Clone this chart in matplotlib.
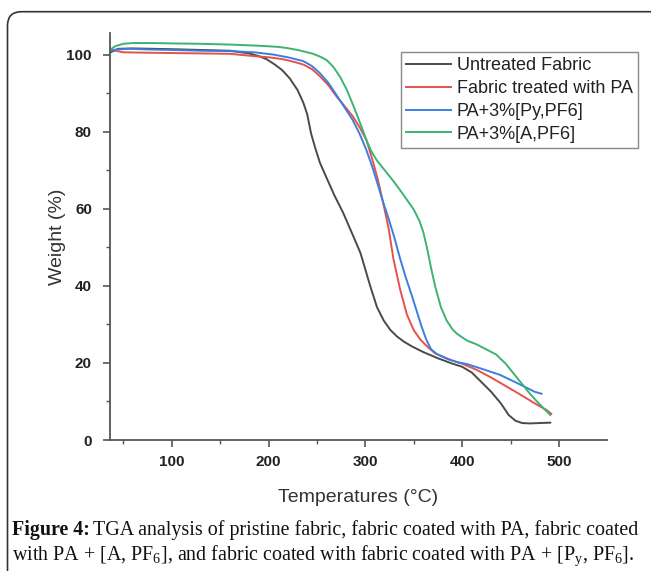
import matplotlib
matplotlib.use("Agg")
import matplotlib.pyplot as plt
from matplotlib.patches import FancyBboxPatch
from matplotlib.transforms import IdentityTransform
from matplotlib.ticker import MultipleLocator, FixedLocator

plt.rcParams['font.family'] = ['Liberation Sans', 'DejaVu Sans']
plt.rcParams['mathtext.fontset'] = 'custom'
plt.rcParams['mathtext.rm'] = 'Liberation Serif'
plt.rcParams['mathtext.it'] = 'Liberation Serif:italic'
plt.rcParams['mathtext.bf'] = 'Liberation Serif:bold'

# TGA curves (temperature in C, weight in %)
untreated_t = [36, 45, 60, 80, 100, 130, 160, 180, 190, 198, 206, 214, 222, 230, 236,
               240, 244, 248, 253, 260, 268, 277, 286, 295, 305, 312, 319, 326, 333,
               340, 348, 360, 375, 390, 400, 410, 420, 430, 440, 448, 455, 462, 470,
               480, 491]
untreated_w = [100.5, 101.5, 101.6, 101.5, 101.4, 101.2, 101.0, 100.3, 99.6, 98.8, 97.5,
               96.0, 93.8, 90.8, 87.5, 84.5, 79.5, 76.0, 72.0, 68.0, 63.5, 59.0, 53.8,
               48.5, 40.0, 34.5, 31.0, 28.5, 26.8, 25.5, 24.3, 22.8, 21.2, 19.8, 19.0,
               17.5, 15.0, 12.5, 9.5, 6.5, 5.0, 4.4, 4.3, 4.4, 4.5]

pa_t = [36, 42, 50, 70, 100, 130, 160, 185, 200, 215, 228, 236, 245, 253, 262, 270,
        278, 287, 294, 301, 307, 313, 318, 324, 329, 336, 343, 350, 357, 365, 372,
        380, 390, 400, 415, 430, 445, 460, 475, 487, 492]
pa_w = [101.5, 101.0, 100.6, 100.5, 100.4, 100.3, 100.2, 99.6, 99.3, 98.8, 98.0, 97.4,
        96.2, 94.4, 92.0, 89.2, 86.8, 84.0, 81.2, 77.9, 73.0, 67.5, 62.0, 55.0, 47.0,
        39.0, 32.5, 28.5, 26.0, 24.0, 22.5, 21.6, 20.6, 19.8, 18.2, 16.2, 14.0, 11.8,
        9.5, 7.8, 6.8]

py_t = [36, 42, 55, 80, 100, 130, 160, 185, 205, 220, 236, 245, 253, 262, 270, 278,
        287, 294, 301, 307, 312, 318, 324, 330, 336, 342, 348, 353, 358, 363, 368,
        374, 385, 395, 405, 420, 439, 455, 467, 475, 482]
py_w = [100.8, 101.3, 101.5, 101.3, 101.2, 101.0, 100.9, 100.6, 100.0, 99.3, 98.3, 97.0,
        95.2, 92.6, 89.6, 86.5, 83.0, 79.5, 75.3, 71.0, 67.0, 62.0, 57.5, 52.5, 47.0,
        42.0, 37.5, 33.5, 29.5, 26.0, 23.5, 22.3, 21.0, 20.2, 19.7, 18.5, 16.9, 15.0,
        13.5, 12.5, 12.0]

a_t = [36, 42, 50, 60, 80, 100, 130, 160, 190, 210, 219, 230, 240, 246, 253, 260, 267,
       274, 281, 288, 295, 301, 306, 312, 320, 328, 336, 343, 350, 356, 360, 364, 368,
       372, 378, 384, 390, 395, 405, 415, 425, 435, 445, 453, 462, 470, 478, 485, 491]
a_w = [101.2, 102.2, 102.8, 103.0, 103.0, 102.9, 102.8, 102.6, 102.3, 102.0, 101.7,
       101.2, 100.6, 100.2, 99.5, 98.6, 96.8, 94.2, 90.8, 86.5, 82.0, 77.9, 75.0, 72.5,
       70.0, 67.5, 64.8, 62.3, 59.8, 56.8, 53.8, 49.5, 44.5, 40.0, 34.5, 31.0, 28.7,
       27.5, 25.8, 24.8, 23.5, 22.2, 19.8, 17.3, 14.5, 12.0, 9.8, 8.0, 6.5]

labels = ["Untreated Fabric", "Fabric treated with PA", "PA+3%[Py,PF6]", "PA+3%[A,PF6]"]
colors = ["#4a4a4a", "#e8504a", "#3a7fe0", "#3cb371"]

W, H = 651, 571
fig = plt.figure(figsize=(W / 100, H / 100), dpi=100)

# rounded frame around the figure panel
frame = FancyBboxPatch((7.5, -30), 700, H - 11.7 + 30,
                       boxstyle="round,pad=0,rounding_size=14",
                       transform=IdentityTransform(), fill=False,
                       ec="#333333", lw=1.2)
fig.add_artist(frame)

ax = fig.add_axes([110 / W, 1 - 440 / H, (607 - 110) / W, (440 - 33) / H])

series = [(untreated_t, untreated_w), (pa_t, pa_w), (py_t, py_w), (a_t, a_w)]
for (t, w), lab, c in zip(series, labels, colors):
    ax.plot(t, w, color=c, lw=1.4, label=lab)

ax.set_xlim(36.3, 549.6)
ax.set_ylim(0, 105.6)
ax.xaxis.set_major_locator(MultipleLocator(100))
ax.xaxis.set_minor_locator(FixedLocator([50, 150, 250, 350, 450, 550]))
ax.yaxis.set_major_locator(MultipleLocator(20))
ax.yaxis.set_minor_locator(FixedLocator([10, 30, 50, 70, 90]))

for s in ["top", "right"]:
    ax.spines[s].set_visible(False)
for s in ["left", "bottom"]:
    ax.spines[s].set_color("#555555")
    ax.spines[s].set_linewidth(1.3)

ax.tick_params(which="major", direction="out", length=5, width=1.2, color="#555555",
               labelsize=11, labelcolor="#222222")
ax.tick_params(which="minor", direction="out", length=3, width=1.0, color="#555555")
ax.tick_params(axis="y", which="major", pad=8)
ax.tick_params(axis="x", which="major", pad=6)
for lbl in ax.get_xticklabels() + ax.get_yticklabels():
    lbl.set_fontweight("bold")

ax.set_xlabel("Temperatures (°C)", fontsize=14, color="#333333", labelpad=14)
ax.set_ylabel("Weight (%)", fontsize=14, color="#333333", labelpad=0)

leg = ax.legend(loc="upper right", bbox_to_anchor=(638 / W, 1 - 52 / H),
                bbox_transform=fig.transFigure, borderaxespad=0, fontsize=13,
                fancybox=False, edgecolor="#888888", framealpha=1,
                handlelength=2.5, handletextpad=0.3, labelspacing=0.32,
                borderpad=0.3)
leg.get_frame().set_linewidth(1.0)
for txt in leg.get_texts():
    txt.set_color("#222222")

# caption: bold lead-in followed by regular text
cap_size = 14.4
x0 = 12 / W
y1, y2 = 1 - 535 / H, 1 - 560 / H
lead = fig.text(x0, y1, "Figure 4:", fontsize=cap_size, family="Liberation Serif",
                weight="bold", color="#111111", va="baseline")
fig.canvas.draw()
bb = lead.get_window_extent(renderer=fig.canvas.get_renderer())
fig.text(bb.x1 / W + 3 / W, y1,
         "TGA analysis of pristine fabric, fabric coated with PA, fabric coated",
         fontsize=cap_size, family="Liberation Serif", color="#111111", va="baseline")
fig.text(x0, y2,
         r"with PA + [A, PF$_6$], and fabric coated with fabric coated with PA + [P$_\mathrm{y}$, PF$_6$].",
         fontsize=cap_size, family="Liberation Serif", color="#111111", va="baseline")

fig.savefig("out.png", dpi=100)
